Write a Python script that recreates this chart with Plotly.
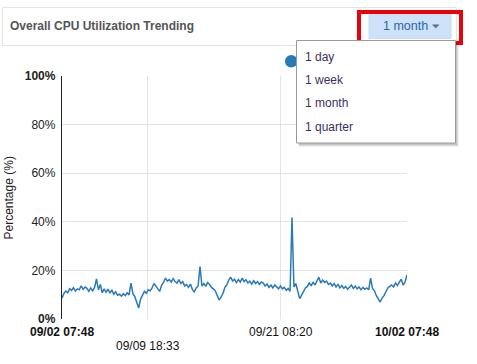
import pandas as pd
import plotly.graph_objects as go

# ---- data ----
start_time = "2023-09-02 07:48"
end_time = "2023-10-02 07:48"
step_hours = 4
cpu_values = [
    8.6, 10.5, 11.5, 10.8, 12.5, 11.8, 12.8, 11.5, 12.4, 12.0,
    13.6, 12.2, 13.2, 12.6, 11.4, 12.8, 11.6, 13.0, 16.5, 12.0,
    14.2, 10.8, 12.4, 11.0, 12.3, 10.6, 12.0, 10.2, 11.2, 9.8,
    10.2, 9.4, 10.4, 9.6, 10.8, 9.9, 14.8, 10.4, 9.2, 7.0,
    4.5, 8.2, 9.8, 11.4, 10.6, 12.0, 11.6, 12.8, 14.6, 13.2,
    12.4, 11.4, 14.0, 15.2, 16.8, 15.6, 16.2, 15.2, 16.6, 15.4,
    14.8, 16.2, 14.6, 15.4, 13.6, 14.2, 13.0, 14.4, 12.2, 11.2,
    12.8, 13.6, 21.6, 13.6, 14.6, 13.4, 15.0, 14.2, 13.0, 12.4,
    11.6, 9.6, 7.8, 9.0, 10.6, 13.0, 14.0, 16.0, 17.2, 15.6,
    16.4, 15.0, 16.2, 15.2, 16.8, 15.4, 16.2, 14.8, 15.6, 14.4,
    15.8, 14.6, 15.4, 14.2, 15.2, 14.8, 13.6, 14.4, 13.0, 14.0,
    12.8, 14.0, 13.2, 12.4, 13.6, 12.4, 13.0, 11.8, 12.6, 11.4,
    41.8, 13.2, 14.6, 11.0, 8.4, 9.8, 11.6, 12.8, 13.4, 14.8,
    13.6, 15.2, 14.0, 15.6, 17.2, 14.8, 16.0, 15.0, 15.6, 14.2,
    14.8, 13.6, 14.6, 13.2, 14.2, 12.8, 13.8, 12.6, 13.4, 12.2,
    13.2, 14.0, 12.6, 13.6, 12.4, 13.2, 12.0, 13.0, 12.2, 12.8,
    12.0, 16.8, 12.6, 11.6, 9.6, 8.4, 7.0, 8.6, 9.6, 11.2,
    12.8, 13.4, 14.0, 13.2, 14.8, 13.8, 15.0, 16.4, 14.0, 15.2,
    18.2,
]
x_tick_times = ["2023-09-02 07:48", "2023-09-09 18:33", "2023-09-21 08:20", "2023-10-02 07:48"]
x_tick_labels = ["<b>09/02 07:48</b>", "09/09 18:33", "09/21 08:20", "<b>10/02 07:48</b>"]
x_tick_rows = [0, 1, 0, 0]
y_tick_vals = [0, 20, 40, 60, 80, 100]
y_tick_labels = ["<b>0%</b>", "20%", "40%", "60%", "80%", "<b>100%</b>"]
menu_items = ["1 day", "1 week", "1 month", "1 quarter"]
selected_range = "1 month"
chart_title = "Overall CPU Utilization Trending"
y_title = "Percentage (%)"

times = pd.date_range(start=start_time, periods=len(cpu_values), freq=f"{step_hours}h")

FONT = "Liberation Sans, Arial, sans-serif"
W, H = 477, 364
L, R, T, B = 62, 407, 76, 319
PW, PH = R - L, B - T


def px(x):
    return (x - L) / PW


def py(y):
    return (B - y) / PH


fig = go.Figure()
fig.add_trace(go.Scatter(
    x=times, y=cpu_values, mode="lines",
    line=dict(color="#2a7ab8", width=1.5),
    hoverinfo="skip", showlegend=False,
))

shapes = []
annotations = []

# title box
shapes.append(dict(type="rect", xref="paper", yref="paper",
                   x0=px(2.5), x1=px(456.5), y0=py(45.5), y1=py(7.5),
                   line=dict(color="#e3e3e3", width=1), fillcolor="rgba(0,0,0,0)", layer="above"))
annotations.append(dict(text=f"<b>{chart_title}</b>", xref="paper", yref="paper",
                        x=px(8), y=py(26.5), xanchor="left", yanchor="middle", showarrow=False,
                        font=dict(family=FONT, size=12, color="#555555")))

# button
shapes.append(dict(type="rect", xref="paper", yref="paper",
                   x0=px(369), x1=px(451), y0=py(38.5), y1=py(14),
                   line=dict(color="#c6dcf3", width=1), fillcolor="#cde2f8", layer="above"))
annotations.append(dict(text=selected_range, xref="paper", yref="paper",
                        x=px(381), y=py(26.5), xanchor="left", yanchor="middle", showarrow=False,
                        font=dict(family=FONT, size=12.5, color="#2a66ab")))
cx0, cy0 = 432.5, 24.8
shapes.append(dict(type="path", xref="paper", yref="paper",
                   path=f"M {px(cx0)} {py(cy0)} L {px(cx0 + 6.5)} {py(cy0)} L {px(cx0 + 3.25)} {py(cy0 + 3.3)} Z",
                   line=dict(color="#5a6f88", width=0.5), fillcolor="#5a6f88", layer="above"))

# red highlight box
shapes.append(dict(type="rect", xref="paper", yref="paper",
                   x0=px(359), x1=px(461), y0=py(43), y1=py(12),
                   line=dict(color="#e8000b", width=4), fillcolor="rgba(0,0,0,0)", layer="above"))

# legend dot (partly hidden by the menu)
shapes.append(dict(type="circle", xref="paper", yref="paper",
                   x0=px(285), x1=px(297.5), y0=py(67.5), y1=py(55),
                   line=dict(color="#2a7ab8", width=0), fillcolor="#2a7ab8", layer="above"))

# dropdown menu shadow + body
shapes.append(dict(type="rect", xref="paper", yref="paper",
                   x0=px(299), x1=px(458.5), y0=py(146.5), y1=py(43),
                   line=dict(width=0), fillcolor="rgba(0,0,0,0.13)", layer="above"))
shapes.append(dict(type="rect", xref="paper", yref="paper",
                   x0=px(298), x1=px(457), y0=py(145), y1=py(42),
                   line=dict(width=0), fillcolor="rgba(0,0,0,0.12)", layer="above"))
shapes.append(dict(type="rect", xref="paper", yref="paper",
                   x0=px(296.5), x1=px(455.5), y0=py(143), y1=py(40.5),
                   line=dict(color="#9a9a9a", width=1), fillcolor="#ffffff", layer="above"))
for i, item in enumerate(menu_items):
    annotations.append(dict(text=item, xref="paper", yref="paper",
                            x=px(302.5), y=py(57 + 23.2 * i), xanchor="left", yanchor="middle",
                            showarrow=False, font=dict(family=FONT, size=12, color="#3d2f5e")))

# x tick labels (staggered)
for t, lab, row in zip(x_tick_times, x_tick_labels, x_tick_rows):
    annotations.append(dict(text=lab, x=t, xref="x", y=0, yref="paper",
                            xanchor="center", yanchor="top", yshift=-4 - 14 * row, showarrow=False,
                            font=dict(family=FONT, size=12, color="#111111")))

# y title
annotations.append(dict(text=y_title, xref="paper", yref="paper", x=px(8.5), y=py(198),
                        xanchor="center", yanchor="middle", textangle=-90, showarrow=False,
                        font=dict(family=FONT, size=12, color="#222222")))

fig.update_layout(
    width=W, height=H,
    margin=dict(l=L, r=W - R, t=T, b=H - B, pad=0),
    paper_bgcolor="white", plot_bgcolor="white",
    font=dict(family=FONT, size=12, color="#222222"),
    shapes=shapes, annotations=annotations,
    showlegend=False,
)
fig.update_xaxes(
    type="date", range=[start_time, end_time],
    tickvals=x_tick_times[1:3], showticklabels=False,
    showgrid=True, gridcolor="#e3e3e3", gridwidth=1,
    showline=False, zeroline=False, ticks="", fixedrange=True,
)
fig.update_yaxes(
    range=[0, 100], tickvals=y_tick_vals, ticktext=y_tick_labels,
    showgrid=True, gridcolor="#e3e3e3", gridwidth=1,
    showline=True, linecolor="#222222", linewidth=1.3,
    zeroline=False, ticks="", ticklabelstandoff=3,
    tickfont=dict(family=FONT, size=12, color="#222222"), fixedrange=True,
)

fig.write_html("out.html", config=dict(displayModeBar=False))
